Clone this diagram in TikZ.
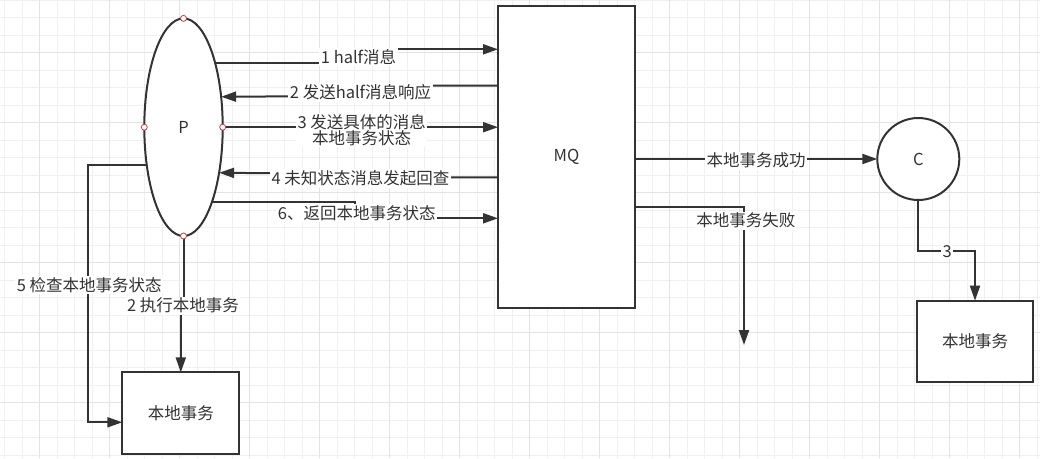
\documentclass[tikz,border=0pt]{standalone}
\usepackage{fontspec}
\setmainfont{Noto Sans CJK SC}
\usetikzlibrary{arrows.meta,shapes.geometric}
\definecolor{ink}{HTML}{333333}
\definecolor{dot}{HTML}{C04040}
\begin{document}
\begin{tikzpicture}[x=1pt, y=-1pt, line width=2pt, color=ink,
  every node/.style={font=\fontsize{16.5}{16}\selectfont, text=ink, inner sep=0pt, outer sep=0pt},
  box/.style={draw=ink, fill=white},
  arr/.style={draw=ink, -{Triangle[length=15pt, width=10pt]}},
  lbl/.style={fill=white, inner sep=1.5pt},
  port/.style={circle, draw=dot, fill=white, line width=0.8pt, minimum size=6pt}]
  \useasboundingbox (0,0) rectangle (1040,458);
  \fill[white] (0,0) rectangle (1040,458);
  \draw[black!6, line width=1pt, shift={(4.5,0)}, step=17.5pt] (-4.5,458) grid (1035.5,0);
  \draw[black!11, line width=1pt, shift={(39.5,52.5)}, step=70pt] (-39.5,405.5) grid (1000.5,-52.5);

  \node[box, ellipse, minimum width=78.4pt, minimum height=217.6pt] (P) at (183.5,127.2) {P};
  \node[box, minimum width=137pt, minimum height=301.5pt] (MQ) at (566.5,156.75) {MQ};
  \node[box, circle, minimum size=82pt] (C) at (918.3,159) {C};
  \node[box, minimum width=117pt, minimum height=81.7pt] (L1) at (180.8,413.2) {本地事务};
  \node[box, minimum width=116.6pt, minimum height=81pt] (L2) at (975,341.2) {本地事务};
  \coordinate (fail end) at (744,345);

  \draw[arr] (P.64.5) -| (357,49.3) -- (MQ.west |- 0,49.3);
  \draw[arr] (MQ.west |- 0,85.7) -| (360,96) -- (P.39.7);
  \draw[arr] (P.east) -- (P.east -| MQ.west);
  \draw[arr] (MQ.west |- 0,177.3) -| (360,174) -- (P.-52.9);
  \draw[arr] (P.-69.8) -| (355,218.3) -- (MQ.west |- 0,218.3);
  \draw[arr] (P.south) -- ++(0,69.7) -| (L1.north);
  \draw[arr] (P.226.9) -| (88.3,422.3) -- (L1.west |- 0,422.3);
  \draw[arr] (MQ.east |- C.west) -- (C.west);
  \draw[arr] (MQ.east |- 0,206.7) -| (fail end);
  \draw[arr] (C.south) |- (947,250.7) -| (L2.north);

  \node[lbl] (t1) at (358.5,56.7) {1 half消息};
  \node[lbl] (t2) at (360.5,92.7) {2 发送half消息响应};
  \node[lbl, align=center] (t3) at (361.7,129.7) {3 发送具体的消息\\本地事务状态};
  \node[lbl] (t4) at (360.5,178.3) {4 未知状态消息发起回查};
  \node[lbl] (t6) at (356.7,213.3) {6、返回本地事务状态};
  \node[lbl] (t2b) at (183,305.7) {2 执行本地事务};
  \node[lbl] (t5) at (89.2,285) {5 检查本地事务状态};
  \node[lbl] (ok) at (756,160.7) {本地事务成功};
  \node[lbl] (fail) at (745.8,220.7) {本地事务失败};
  \node[lbl] (t3c) at (947.3,251.7) {3};

  \node[port] (pn) at (P.north) {};
  \node[port] (ps) at (P.south) {};
  \node[port] (pw) at (P.west) {};
  \node[port] (pe) at (P.east) {};
\end{tikzpicture}
\end{document}
